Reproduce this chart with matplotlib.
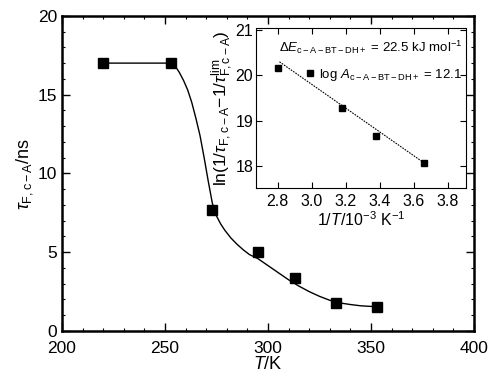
import numpy as np
import matplotlib
matplotlib.use("Agg")
import matplotlib.pyplot as plt
from matplotlib.ticker import MultipleLocator

plt.rcParams['font.family'] = ['Liberation Sans', 'DejaVu Sans']
plt.rcParams['mathtext.fontset'] = 'custom'
plt.rcParams['mathtext.rm'] = 'Liberation Sans'
plt.rcParams['mathtext.it'] = 'Liberation Sans:italic'
plt.rcParams['mathtext.bf'] = 'Liberation Sans:bold'

# --- main panel: fluorescence lifetime vs temperature ---
temp_K = [220, 253, 273, 295, 313, 333, 353]
tau_ns = [17.0, 17.0, 7.7, 5.0, 3.35, 1.75, 1.55]

# guide curve
curve_T = [220, 253, 255, 257, 259, 261, 263, 265, 267, 269, 271, 273, 275,
           277, 279, 282, 285, 288, 291, 295, 300, 305, 310, 315, 320, 325,
           330, 335, 340, 345, 350, 353]
curve_tau = [17.0, 17.0, 16.8, 16.4, 15.9, 15.3, 14.5, 13.5, 12.4, 11.0, 9.5,
             8.1, 7.3, 6.8, 6.4, 5.9, 5.5, 5.15, 4.85, 4.6, 4.15, 3.7, 3.25,
             2.85, 2.5, 2.2, 1.95, 1.78, 1.68, 1.6, 1.56, 1.55]

# --- inset: Arrhenius plot ---
inv_T = [2.80, 2.99, 3.18, 3.38, 3.66]
ln_rate = [20.16, 20.05, 19.29, 18.66, 18.07]
fit_x = [2.81, 3.66]
fit_y = [20.30, 18.07]

fig = plt.figure(figsize=(5.0, 3.77), dpi=100)
ax = fig.add_axes([0.124, 0.122, 0.824, 0.836])

ax.plot(curve_T, curve_tau, color='black', lw=1.0)
ax.plot(temp_K, tau_ns, linestyle='none', marker='s', ms=6.5, color='black')

ax.set_xlim(200, 400)
ax.set_ylim(0, 20)
ax.xaxis.set_major_locator(MultipleLocator(50))
ax.xaxis.set_minor_locator(MultipleLocator(10))
ax.yaxis.set_major_locator(MultipleLocator(5))
ax.yaxis.set_minor_locator(MultipleLocator(1))
ax.tick_params(which='both', direction='in', top=True, right=True, labelsize=12.5)
ax.tick_params(axis='x', pad=7)
ax.tick_params(which='major', length=6, width=1)
ax.tick_params(which='minor', length=2, width=0.8)
for s in ax.spines.values():
    s.set_linewidth(1.8)
ax.set_xlabel(r'$T$/K', fontsize=13, labelpad=0)
ax.set_ylabel(r'$\tau_{\rm F,c-A}$/ns', fontsize=13, labelpad=2)

ins = fig.add_axes([0.512, 0.501, 0.420, 0.424])
ins.plot(fit_x, fit_y, color='black', lw=0.8, linestyle=(0, (1.5, 1)))
ins.plot(inv_T, ln_rate, linestyle='none', marker='s', ms=4, color='black')
ins.set_xlim(2.672, 3.908)
ins.set_ylim(17.51, 21.04)
ins.xaxis.set_major_locator(MultipleLocator(0.2))
ins.yaxis.set_major_locator(MultipleLocator(1))
ins.tick_params(direction='in', top=True, right=True, labelsize=11.5,
                length=4, width=0.8, pad=2)
ins.tick_params(axis='x', pad=4)
for s in ins.spines.values():
    s.set_linewidth(0.8)
    s.set_linestyle((0, (3, 1)))
ins.set_xlabel(r'1/$T$/10$^{-3}$ K$^{-1}$', fontsize=11.5, labelpad=1)
ins.set_ylabel(r'ln(1/$\tau_{\rm F,c-A}$$-$1/$\tau_{\rm F,c-A}^{\rm lim}$)',
               fontsize=12.5, labelpad=0)
ins.text(2.81, 20.62, r'$\Delta E_{\rm c-A-BT-DH+}$ = 22.5 kJ mol$^{-1}$',
         fontsize=9.5, va='center')
ins.text(3.04, 20.0, r'log $A_{\rm c-A-BT-DH+}$ = 12.1',
         fontsize=9.5, va='center')

fig.savefig('out.png', dpi=100)
